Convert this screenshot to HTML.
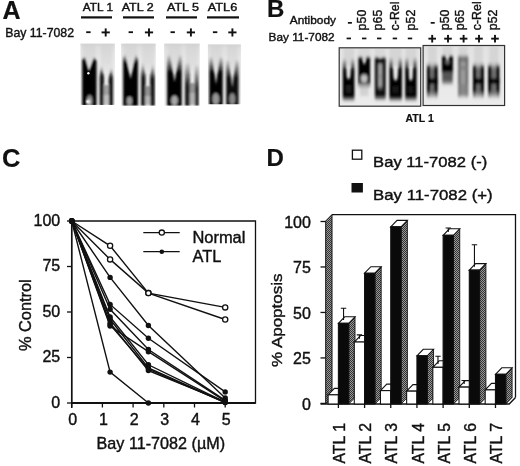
<!DOCTYPE html>
<html><head><meta charset="utf-8"><style>
html,body{margin:0;padding:0;background:#fff;}
svg{display:block;will-change:transform;}
text{font-family:"Liberation Sans",sans-serif;fill:#111;stroke:#111;stroke-width:0.4px;}
text[font-weight=bold]{stroke-width:0.2px;}
</style></head><body>
<svg width="520" height="466" viewBox="0 0 520 466">
<defs>
<linearGradient id="g1" gradientUnits="userSpaceOnUse" x1="0" y1="55.5" x2="0" y2="60.5"><stop offset="0" stop-color="#030303" stop-opacity="0.0"/><stop offset="1" stop-color="#030303" stop-opacity="1.0"/></linearGradient><linearGradient id="g2" gradientUnits="userSpaceOnUse" x1="0" y1="64.5" x2="0" y2="74.5"><stop offset="0" stop-color="#080808" stop-opacity="0.0"/><stop offset="1" stop-color="#080808" stop-opacity="1.0"/></linearGradient><linearGradient id="g3" gradientUnits="userSpaceOnUse" x1="0" y1="66.5" x2="0" y2="76.5"><stop offset="0" stop-color="#080808" stop-opacity="0.0"/><stop offset="1" stop-color="#080808" stop-opacity="1.0"/></linearGradient><linearGradient id="g4" gradientUnits="userSpaceOnUse" x1="0" y1="53" x2="0" y2="63"><stop offset="0" stop-color="#030303" stop-opacity="0.0"/><stop offset="1" stop-color="#030303" stop-opacity="1.0"/></linearGradient><linearGradient id="g5" gradientUnits="userSpaceOnUse" x1="0" y1="61" x2="0" y2="78"><stop offset="0" stop-color="#0a0a0a" stop-opacity="0.0"/><stop offset="1" stop-color="#0a0a0a" stop-opacity="1.0"/></linearGradient><linearGradient id="g6" gradientUnits="userSpaceOnUse" x1="0" y1="62.5" x2="0" y2="79.5"><stop offset="0" stop-color="#0a0a0a" stop-opacity="0.0"/><stop offset="1" stop-color="#0a0a0a" stop-opacity="1.0"/></linearGradient><linearGradient id="g7" gradientUnits="userSpaceOnUse" x1="0" y1="54" x2="0" y2="73"><stop offset="0" stop-color="#040404" stop-opacity="0.0"/><stop offset="1" stop-color="#040404" stop-opacity="1.0"/></linearGradient><linearGradient id="g8" gradientUnits="userSpaceOnUse" x1="0" y1="62" x2="0" y2="86"><stop offset="0" stop-color="#1a1a1a" stop-opacity="0.0"/><stop offset="1" stop-color="#1a1a1a" stop-opacity="1.0"/></linearGradient><linearGradient id="g9" gradientUnits="userSpaceOnUse" x1="0" y1="64" x2="0" y2="88"><stop offset="0" stop-color="#222" stop-opacity="0.0"/><stop offset="1" stop-color="#222" stop-opacity="1.0"/></linearGradient><linearGradient id="g10" gradientUnits="userSpaceOnUse" x1="0" y1="56" x2="0" y2="73"><stop offset="0" stop-color="#040404" stop-opacity="0.0"/><stop offset="1" stop-color="#040404" stop-opacity="1.0"/></linearGradient><linearGradient id="g11" gradientUnits="userSpaceOnUse" x1="0" y1="59" x2="0" y2="78"><stop offset="0" stop-color="#0a0a0a" stop-opacity="0.0"/><stop offset="1" stop-color="#0a0a0a" stop-opacity="1.0"/></linearGradient><linearGradient id="g12" gradientUnits="userSpaceOnUse" x1="0" y1="42.6" x2="0" y2="73.6"><stop offset="0" stop-color="#c4c4c4" stop-opacity="0"/><stop offset="0.097" stop-color="#c4c4c4" stop-opacity="0.3"/><stop offset="0.613" stop-color="#c4c4c4" stop-opacity="0.3"/><stop offset="1" stop-color="#c4c4c4" stop-opacity="0"/></linearGradient><linearGradient id="g13" gradientUnits="userSpaceOnUse" x1="0" y1="42.6" x2="0" y2="73.6"><stop offset="0" stop-color="#c4c4c4" stop-opacity="0"/><stop offset="0.097" stop-color="#c4c4c4" stop-opacity="0.3"/><stop offset="0.613" stop-color="#c4c4c4" stop-opacity="0.3"/><stop offset="1" stop-color="#c4c4c4" stop-opacity="0"/></linearGradient><linearGradient id="g14" gradientUnits="userSpaceOnUse" x1="0" y1="42.6" x2="0" y2="73.6"><stop offset="0" stop-color="#c4c4c4" stop-opacity="0"/><stop offset="0.097" stop-color="#c4c4c4" stop-opacity="0.3"/><stop offset="0.613" stop-color="#c4c4c4" stop-opacity="0.3"/><stop offset="1" stop-color="#c4c4c4" stop-opacity="0"/></linearGradient><linearGradient id="g15" gradientUnits="userSpaceOnUse" x1="0" y1="42.6" x2="0" y2="73.6"><stop offset="0" stop-color="#c4c4c4" stop-opacity="0"/><stop offset="0.097" stop-color="#c4c4c4" stop-opacity="0.3"/><stop offset="0.613" stop-color="#c4c4c4" stop-opacity="0.3"/><stop offset="1" stop-color="#c4c4c4" stop-opacity="0"/></linearGradient><linearGradient id="g16" gradientUnits="userSpaceOnUse" x1="0" y1="42.6" x2="0" y2="73.6"><stop offset="0" stop-color="#c4c4c4" stop-opacity="0"/><stop offset="0.097" stop-color="#c4c4c4" stop-opacity="0.3"/><stop offset="0.613" stop-color="#c4c4c4" stop-opacity="0.3"/><stop offset="1" stop-color="#c4c4c4" stop-opacity="0"/></linearGradient><linearGradient id="g17" gradientUnits="userSpaceOnUse" x1="0" y1="42.6" x2="0" y2="73.6"><stop offset="0" stop-color="#c4c4c4" stop-opacity="0"/><stop offset="0.097" stop-color="#c4c4c4" stop-opacity="0.3"/><stop offset="0.613" stop-color="#c4c4c4" stop-opacity="0.3"/><stop offset="1" stop-color="#c4c4c4" stop-opacity="0"/></linearGradient><linearGradient id="g18" gradientUnits="userSpaceOnUse" x1="0" y1="43.4" x2="0" y2="74.4"><stop offset="0" stop-color="#c4c4c4" stop-opacity="0"/><stop offset="0.097" stop-color="#c4c4c4" stop-opacity="0.3"/><stop offset="0.613" stop-color="#c4c4c4" stop-opacity="0.3"/><stop offset="1" stop-color="#c4c4c4" stop-opacity="0"/></linearGradient><linearGradient id="g19" gradientUnits="userSpaceOnUse" x1="0" y1="43.4" x2="0" y2="74.4"><stop offset="0" stop-color="#c4c4c4" stop-opacity="0"/><stop offset="0.097" stop-color="#c4c4c4" stop-opacity="0.3"/><stop offset="0.613" stop-color="#c4c4c4" stop-opacity="0.3"/><stop offset="1" stop-color="#c4c4c4" stop-opacity="0"/></linearGradient><linearGradient id="g20" gradientUnits="userSpaceOnUse" x1="0" y1="58" x2="0" y2="102"><stop offset="0" stop-color="#050505" stop-opacity="0"/><stop offset="0.295" stop-color="#050505" stop-opacity="1.0"/><stop offset="0.852" stop-color="#050505" stop-opacity="1.0"/><stop offset="1" stop-color="#050505" stop-opacity="0"/></linearGradient><linearGradient id="g21" gradientUnits="userSpaceOnUse" x1="0" y1="55.5" x2="0" y2="89"><stop offset="0" stop-color="#050505" stop-opacity="0"/><stop offset="0.104" stop-color="#050505" stop-opacity="1.0"/><stop offset="0.761" stop-color="#050505" stop-opacity="1.0"/><stop offset="1" stop-color="#050505" stop-opacity="0"/></linearGradient><linearGradient id="g22" gradientUnits="userSpaceOnUse" x1="0" y1="56" x2="0" y2="101"><stop offset="0" stop-color="#0a0a0a" stop-opacity="0"/><stop offset="0.067" stop-color="#0a0a0a" stop-opacity="1.0"/><stop offset="0.867" stop-color="#0a0a0a" stop-opacity="1.0"/><stop offset="1" stop-color="#0a0a0a" stop-opacity="0"/></linearGradient><linearGradient id="g23" gradientUnits="userSpaceOnUse" x1="0" y1="57" x2="0" y2="102"><stop offset="0" stop-color="#050505" stop-opacity="0"/><stop offset="0.289" stop-color="#050505" stop-opacity="1.0"/><stop offset="0.867" stop-color="#050505" stop-opacity="1.0"/><stop offset="1" stop-color="#050505" stop-opacity="0"/></linearGradient><linearGradient id="g24" gradientUnits="userSpaceOnUse" x1="0" y1="57" x2="0" y2="102"><stop offset="0" stop-color="#050505" stop-opacity="0"/><stop offset="0.289" stop-color="#050505" stop-opacity="1.0"/><stop offset="0.856" stop-color="#050505" stop-opacity="1.0"/><stop offset="1" stop-color="#050505" stop-opacity="0"/></linearGradient><linearGradient id="g25" gradientUnits="userSpaceOnUse" x1="0" y1="62" x2="0" y2="99"><stop offset="0" stop-color="#050505" stop-opacity="0"/><stop offset="0.189" stop-color="#050505" stop-opacity="1.0"/><stop offset="0.757" stop-color="#050505" stop-opacity="1.0"/><stop offset="1" stop-color="#050505" stop-opacity="0"/></linearGradient><linearGradient id="g26" gradientUnits="userSpaceOnUse" x1="0" y1="62" x2="0" y2="99"><stop offset="0" stop-color="#050505" stop-opacity="0"/><stop offset="0.189" stop-color="#050505" stop-opacity="1.0"/><stop offset="0.757" stop-color="#050505" stop-opacity="1.0"/><stop offset="1" stop-color="#050505" stop-opacity="0"/></linearGradient><linearGradient id="g27" gradientUnits="userSpaceOnUse" x1="0" y1="62" x2="0" y2="99"><stop offset="0" stop-color="#6a6a6a" stop-opacity="0"/><stop offset="0.216" stop-color="#6a6a6a" stop-opacity="1.0"/><stop offset="0.811" stop-color="#6a6a6a" stop-opacity="1.0"/><stop offset="1" stop-color="#6a6a6a" stop-opacity="0"/></linearGradient><linearGradient id="g28" gradientUnits="userSpaceOnUse" x1="0" y1="62" x2="0" y2="99"><stop offset="0" stop-color="#050505" stop-opacity="0"/><stop offset="0.189" stop-color="#050505" stop-opacity="1.0"/><stop offset="0.757" stop-color="#050505" stop-opacity="1.0"/><stop offset="1" stop-color="#050505" stop-opacity="0"/></linearGradient><linearGradient id="g29" gradientUnits="userSpaceOnUse" x1="0" y1="62" x2="0" y2="99"><stop offset="0" stop-color="#050505" stop-opacity="0"/><stop offset="0.189" stop-color="#050505" stop-opacity="1.0"/><stop offset="0.757" stop-color="#050505" stop-opacity="1.0"/><stop offset="1" stop-color="#050505" stop-opacity="0"/></linearGradient><linearGradient id="g30" gradientUnits="userSpaceOnUse" x1="0" y1="62" x2="0" y2="99"><stop offset="0" stop-color="#6a6a6a" stop-opacity="0"/><stop offset="0.216" stop-color="#6a6a6a" stop-opacity="1.0"/><stop offset="0.811" stop-color="#6a6a6a" stop-opacity="1.0"/><stop offset="1" stop-color="#6a6a6a" stop-opacity="0"/></linearGradient><linearGradient id="g31" gradientUnits="userSpaceOnUse" x1="0" y1="62" x2="0" y2="99"><stop offset="0" stop-color="#050505" stop-opacity="0"/><stop offset="0.189" stop-color="#050505" stop-opacity="1.0"/><stop offset="0.757" stop-color="#050505" stop-opacity="1.0"/><stop offset="1" stop-color="#050505" stop-opacity="0"/></linearGradient><linearGradient id="g32" gradientUnits="userSpaceOnUse" x1="0" y1="62" x2="0" y2="99"><stop offset="0" stop-color="#050505" stop-opacity="0"/><stop offset="0.189" stop-color="#050505" stop-opacity="1.0"/><stop offset="0.757" stop-color="#050505" stop-opacity="1.0"/><stop offset="1" stop-color="#050505" stop-opacity="0"/></linearGradient><linearGradient id="g33" gradientUnits="userSpaceOnUse" x1="0" y1="62" x2="0" y2="99"><stop offset="0" stop-color="#6a6a6a" stop-opacity="0"/><stop offset="0.216" stop-color="#6a6a6a" stop-opacity="1.0"/><stop offset="0.811" stop-color="#6a6a6a" stop-opacity="1.0"/><stop offset="1" stop-color="#6a6a6a" stop-opacity="0"/></linearGradient><linearGradient id="g34" gradientUnits="userSpaceOnUse" x1="0" y1="54.5" x2="0" y2="76"><stop offset="0" stop-color="#050505" stop-opacity="0"/><stop offset="0.116" stop-color="#050505" stop-opacity="1.0"/><stop offset="0.814" stop-color="#050505" stop-opacity="1.0"/><stop offset="1" stop-color="#050505" stop-opacity="0"/></linearGradient><linearGradient id="g35" gradientUnits="userSpaceOnUse" x1="0" y1="71" x2="0" y2="86"><stop offset="0" stop-color="#555" stop-opacity="0"/><stop offset="0.067" stop-color="#555" stop-opacity="1.0"/><stop offset="0.600" stop-color="#555" stop-opacity="1.0"/><stop offset="1" stop-color="#555" stop-opacity="0"/></linearGradient><linearGradient id="g36" gradientUnits="userSpaceOnUse" x1="0" y1="54" x2="0" y2="99"><stop offset="0" stop-color="#9a9a9a" stop-opacity="0"/><stop offset="0.067" stop-color="#9a9a9a" stop-opacity="1.0"/><stop offset="0.889" stop-color="#9a9a9a" stop-opacity="1.0"/><stop offset="1" stop-color="#9a9a9a" stop-opacity="0"/></linearGradient><linearGradient id="g37" gradientUnits="userSpaceOnUse" x1="0" y1="56" x2="0" y2="98"><stop offset="0" stop-color="#707070" stop-opacity="0"/><stop offset="0.095" stop-color="#707070" stop-opacity="1.0"/><stop offset="0.857" stop-color="#707070" stop-opacity="1.0"/><stop offset="1" stop-color="#707070" stop-opacity="0"/></linearGradient><linearGradient id="g38" gradientUnits="userSpaceOnUse" x1="0" y1="56" x2="0" y2="98"><stop offset="0" stop-color="#707070" stop-opacity="0"/><stop offset="0.095" stop-color="#707070" stop-opacity="1.0"/><stop offset="0.857" stop-color="#707070" stop-opacity="1.0"/><stop offset="1" stop-color="#707070" stop-opacity="0"/></linearGradient>
<linearGradient id="gelbg" x1="0" y1="0" x2="0" y2="1">
<stop offset="0" stop-color="#d4d4d4"/><stop offset="0.06" stop-color="#dedede"/><stop offset="0.25" stop-color="#e6e6e6"/><stop offset="1" stop-color="#eeeeee"/>
</linearGradient>
<linearGradient id="gelbgB" x1="0" y1="0" x2="0" y2="1">
<stop offset="0" stop-color="#e2e2e2"/><stop offset="1" stop-color="#ececec"/>
</linearGradient>
<pattern id="stip" width="2" height="2" patternUnits="userSpaceOnUse">
<rect width="2" height="2" fill="#999"/><rect width="1" height="1" fill="#333"/><rect x="1" y="1" width="1" height="1" fill="#333"/>
</pattern>
<filter id="blur1" x="-20%" y="-20%" width="140%" height="140%"><feGaussianBlur stdDeviation="0.85 0.95"/></filter>
<filter id="blurB" x="-20%" y="-20%" width="140%" height="140%"><feGaussianBlur stdDeviation="1.3 1.4"/></filter>
<filter id="blur05"><feGaussianBlur stdDeviation="0.5"/></filter>
<clipPath id="clipA0"><rect x="80.5" y="43.6" width="34.5" height="61.4"/></clipPath>
<clipPath id="clipA1"><rect x="121.2" y="43.6" width="34.5" height="62.1"/></clipPath>
<clipPath id="clipA2"><rect x="164.2" y="43.6" width="35.5" height="62.1"/></clipPath>
<clipPath id="clipA3"><rect x="207.9" y="44.4" width="33" height="59.8"/></clipPath>
<clipPath id="clipB0"><rect x="340" y="48.5" width="79.8" height="57"/></clipPath>
<clipPath id="clipB1"><rect x="424" y="46.2" width="80.3" height="58.5"/></clipPath>
</defs>
<rect width="520" height="466" fill="#fff"/>
<text x="2.4" y="19" font-size="25" font-weight="bold" >A</text>
<text x="5.2" y="37.3" font-size="13" textLength="68.8" lengthAdjust="spacingAndGlyphs" >Bay 11-7082</text>
<text x="82.8" y="10.7" font-size="11.5" textLength="30.2" lengthAdjust="spacingAndGlyphs" >ATL 1</text>
<rect x="81" y="16.3" width="31" height="2.2" fill="#111"/>
<text x="121.7" y="10.7" font-size="11.5" textLength="32.0" lengthAdjust="spacingAndGlyphs" >ATL 2</text>
<rect x="123" y="16.3" width="31" height="2.2" fill="#111"/>
<text x="167" y="10.7" font-size="11.5" textLength="32" lengthAdjust="spacingAndGlyphs" >ATL 5</text>
<rect x="166" y="16.3" width="31" height="2.2" fill="#111"/>
<text x="207.8" y="10.7" font-size="11.5" textLength="29.4" lengthAdjust="spacingAndGlyphs" >ATL6</text>
<rect x="207" y="16.3" width="32" height="2.2" fill="#111"/>
<rect x="86.2" y="31.3" width="4.4" height="1.8" fill="#111"/>
<rect x="101.60000000000001" y="31.45" width="8.2" height="1.9" fill="#111"/>
<rect x="104.75" y="28.4" width="1.9" height="8.1" fill="#111"/>
<rect x="128.60000000000002" y="31.3" width="4.4" height="1.8" fill="#111"/>
<rect x="144.9" y="31.45" width="8.2" height="1.9" fill="#111"/>
<rect x="148.05" y="28.4" width="1.9" height="8.1" fill="#111"/>
<rect x="170.50000000000003" y="31.3" width="4.4" height="1.8" fill="#111"/>
<rect x="186.8" y="31.45" width="8.2" height="1.9" fill="#111"/>
<rect x="189.95000000000002" y="28.4" width="1.9" height="8.1" fill="#111"/>
<rect x="212.9" y="31.3" width="4.4" height="1.8" fill="#111"/>
<rect x="228.3" y="31.45" width="8.2" height="1.9" fill="#111"/>
<rect x="231.45000000000002" y="28.4" width="1.9" height="8.1" fill="#111"/>
<rect x="80.5" y="43.6" width="34.3" height="61.0" fill="url(#gelbg)"/>
<g clip-path="url(#clipA0)"><g filter="url(#blur1)">
<rect x="83.2" y="43.6" width="12.299999999999997" height="30" fill="url(#g12)"/>
<rect x="100.8" y="43.6" width="11.100000000000009" height="30" fill="url(#g13)"/>
<path d="M82.2,106 L82.2,60.5 L84.5,55.5 L88.9,71.5 L94.3,56.5 L96.5,61.5 L96.5,106 Z" fill="url(#g1)"/>
<ellipse cx="89.6" cy="101" rx="3" ry="6" fill="#999" fill-opacity="0.9"/>
<ellipse cx="88.6" cy="101.8" rx="2" ry="2.2" fill="#e8e8e8" fill-opacity="1"/>
<path d="M99.8,106 L99.8,77.5 L101.6,64.5 L103.8,77.5 L103.8,106 Z" fill="url(#g2)"/>
<path d="M108.8,106 L108.8,79.5 L111.2,66.5 L112.9,79.5 L112.9,106 Z" fill="url(#g3)"/>
<rect x="103.5" y="85" width="5.5" height="10" fill="#999" fill-opacity="0.9"/>
<rect x="103.5" y="95" width="5.5" height="10" fill="#bbb" fill-opacity="0.9"/>
</g></g>
<circle cx="87.6" cy="101.6" r="1.2" fill="#f4f4f4" filter="url(#blur05)"/>
<circle cx="88.4" cy="73.3" r="1.2" fill="#f4f4f4" filter="url(#blur05)"/>
<rect x="121.2" y="43.6" width="34.5" height="62.1" fill="url(#gelbg)"/>
<g clip-path="url(#clipA1)"><g filter="url(#blur1)">
<rect x="124.2" y="43.6" width="12.700000000000003" height="30" fill="url(#g14)"/>
<rect x="142.2" y="43.6" width="11.400000000000006" height="30" fill="url(#g15)"/>
<path d="M123.2,106 L123.2,59 L124.9,53 L130.6,78.9 L135.8,53.8 L137.9,59.8 L137.9,106 Z" fill="url(#g4)"/>
<ellipse cx="129.5" cy="101" rx="2.8" ry="4.5" fill="#aaa" fill-opacity="0.9"/>
<path d="M141.2,106 L141.2,75 L142.8,61 L145.4,75 L145.4,106 Z" fill="url(#g5)"/>
<path d="M150.2,106 L150.2,76.5 L152.6,62.5 L154.6,76.5 L154.6,106 Z" fill="url(#g6)"/>
<rect x="145" y="86" width="5.5" height="10" fill="#888" fill-opacity="0.9"/>
<rect x="145" y="96" width="5.5" height="9" fill="#b0b0b0" fill-opacity="0.9"/>
</g></g>
<rect x="164.2" y="43.6" width="35.5" height="62.1" fill="url(#gelbg)"/>
<g clip-path="url(#clipA2)"><g filter="url(#blur1)">
<rect x="168.1" y="43.6" width="12.599999999999994" height="30" fill="url(#g16)"/>
<rect x="186" y="43.6" width="11.599999999999994" height="30" fill="url(#g17)"/>
<path d="M167.1,106 L167.1,55.5 L168.6,54 L170,54 L174.6,82 L179.2,54 L180.2,54 L181.7,55.5 L181.7,106 Z" fill="url(#g7)"/>
<ellipse cx="174.5" cy="100.5" rx="3.4" ry="5" fill="#b8b8b8" fill-opacity="0.9"/>
<path d="M185,106 L185,63.5 L186.5,62 L188.5,62 L190,63.5 L190,106 Z" fill="url(#g8)"/>
<path d="M194.8,106 L194.8,65.5 L196.3,64 L197.1,64 L198.6,65.5 L198.6,106 Z" fill="url(#g9)"/>
<rect x="189.5" y="83" width="5.5" height="10" fill="#8a8a8a" fill-opacity="0.9"/>
<rect x="189.5" y="93" width="5.5" height="12" fill="#aaa" fill-opacity="0.9"/>
</g></g>
<rect x="207.9" y="44.4" width="33" height="59.8" fill="url(#gelbg)"/>
<g clip-path="url(#clipA3)"><g filter="url(#blur1)">
<rect x="210.3" y="44.4" width="11.399999999999977" height="30" fill="url(#g18)"/>
<rect x="227.2" y="44.4" width="10.300000000000011" height="30" fill="url(#g19)"/>
<path d="M209.3,106 L209.3,57.5 L210.8,56 L212.2,56 L216,84.5 L219.8,56 L221.2,56 L222.7,57.5 L222.7,106 Z" fill="url(#g10)"/>
<ellipse cx="215.8" cy="99" rx="3.4" ry="6" fill="#b0b0b0" fill-opacity="0.85"/>
<path d="M226.2,106 L226.2,60.5 L227.7,59 L228.8,59 L232.3,87.5 L235.8,59 L237.0,59 L238.5,60.5 L238.5,106 Z" fill="url(#g11)"/>
<ellipse cx="232.3" cy="99" rx="3" ry="6" fill="#a8a8a8" fill-opacity="0.8"/>
</g></g>
<text x="266.9" y="17.1" font-size="24" font-weight="bold" >B</text>
<text x="289.8" y="24" font-size="11.5" textLength="46.2" lengthAdjust="spacingAndGlyphs" >Antibody</text>
<text x="268.6" y="41.3" font-size="11.8" textLength="66" lengthAdjust="spacingAndGlyphs" >Bay 11-7082</text>
<rect x="347.9" y="22" width="4" height="1.7" fill="#111"/>
<text transform="translate(365.8,30.4) rotate(-90)" font-size="12.4">p50</text>
<text transform="translate(382.2,30.4) rotate(-90)" font-size="12.4">p65</text>
<text transform="translate(399.2,30.4) rotate(-90)" font-size="12.4">c-Rel</text>
<text transform="translate(414.9,30.4) rotate(-90)" font-size="12.4">p52</text>
<rect x="430.7" y="22" width="4" height="1.7" fill="#111"/>
<text transform="translate(448.9,30.2) rotate(-90)" font-size="12.4">p50</text>
<text transform="translate(463.8,30.2) rotate(-90)" font-size="12.4">p65</text>
<text transform="translate(481.4,30.2) rotate(-90)" font-size="12.4">c-Rel</text>
<text transform="translate(497.1,30.2) rotate(-90)" font-size="12.4">p52</text>
<rect x="346.6" y="37.6" width="4.4" height="1.7" fill="#111"/>
<rect x="362.0" y="37.6" width="4.4" height="1.7" fill="#111"/>
<rect x="377.0" y="37.6" width="4.4" height="1.7" fill="#111"/>
<rect x="392.7" y="37.6" width="4.4" height="1.7" fill="#111"/>
<rect x="407.8" y="37.6" width="4.4" height="1.7" fill="#111"/>
<rect x="428.4" y="37.7" width="7.6" height="1.9" fill="#111"/>
<rect x="431.25" y="34.9" width="1.9" height="7.6" fill="#111"/>
<rect x="444.2" y="37.7" width="7.6" height="1.9" fill="#111"/>
<rect x="447.05" y="34.9" width="1.9" height="7.6" fill="#111"/>
<rect x="459.8" y="37.7" width="7.6" height="1.9" fill="#111"/>
<rect x="462.65000000000003" y="34.9" width="1.9" height="7.6" fill="#111"/>
<rect x="475.2" y="37.7" width="7.6" height="1.9" fill="#111"/>
<rect x="478.05" y="34.9" width="1.9" height="7.6" fill="#111"/>
<rect x="491.2" y="37.7" width="7.6" height="1.9" fill="#111"/>
<rect x="494.05" y="34.9" width="1.9" height="7.6" fill="#111"/>
<rect x="339.2" y="47.8" width="81.5" height="58.4" fill="url(#gelbgB)"/>
<rect x="423.1" y="45.5" width="81.5" height="60" fill="url(#gelbgB)"/>
<g clip-path="url(#clipB0)"><g filter="url(#blurB)">
<rect x="343.5" y="48" width="10.5" height="18" fill="#c8c8c8" fill-opacity="0.5"/>
<rect x="358.5" y="48" width="11.5" height="12" fill="#c8c8c8" fill-opacity="0.4"/>
<rect x="375" y="48" width="10" height="12" fill="#c8c8c8" fill-opacity="0.4"/>
<rect x="389.5" y="48" width="12.0" height="18" fill="#c8c8c8" fill-opacity="0.5"/>
<rect x="405.5" y="48" width="11.0" height="18" fill="#c8c8c8" fill-opacity="0.5"/>
<path d="M342.8,102 L342.8,58 L346.0,58 C346.8,76 346.1,79 348.6,79 C351.1,79 350.4,76 351.2,58 L354.4,58 L354.4,102 Z" fill="url(#g20)"/>
<rect x="345.5" y="85" width="6" height="8" fill="#3a3a3a" fill-opacity="0.5"/>
<path d="M358.4,89 L358.4,55.5 L362.2,55.5 L363.25,63.5 Q364.25,65 365.25,63.5 L366.3,55.5 L370.1,55.5 L370.1,89 Z" fill="url(#g21)"/>
<ellipse cx="364.2" cy="78.4" rx="3.3" ry="3.8" fill="#c2c2c2" fill-opacity="1"/>
<rect x="360" y="84" width="8.4" height="12" fill="#bbb" fill-opacity="0.5"/>
<path d="M374.9,101 L374.9,56 L376.4,56 L379.25,58.0 Q380.25,59.5 381.25,58.0 L384.1,56 L385.6,56 L385.6,101 Z" fill="url(#g22)"/>
<rect x="378.2" y="63.5" width="4" height="24" fill="#a8a8a8" fill-opacity="0.95"/>
<rect x="378.2" y="75" width="4" height="3" fill="#888" fill-opacity="0.7"/>
<rect x="378.2" y="86" width="4" height="4" fill="#777" fill-opacity="0.6"/>
<path d="M389.4,102 L389.4,57 L392.59999999999997,57 C393.4,77.5 393.15,80.5 395.65,80.5 C398.15,80.5 397.9,77.5 398.7,57 L401.9,57 L401.9,102 Z" fill="url(#g23)"/>
<rect x="392.5" y="86" width="6" height="7" fill="#333" fill-opacity="0.4"/>
<path d="M405.2,102 L405.2,57 L408.4,57 C409.2,77.5 408.4,80.5 410.9,80.5 C413.4,80.5 412.6,77.5 413.40000000000003,57 L416.6,57 L416.6,102 Z" fill="url(#g24)"/>
<rect x="408" y="86" width="5" height="7" fill="#333" fill-opacity="0.4"/>
</g></g>
<g clip-path="url(#clipB1)"><g filter="url(#blurB)">
<rect x="428" y="46" width="8.600000000000023" height="18" fill="#c8c8c8" fill-opacity="0.5"/>
<rect x="427" y="62" width="3.6" height="38" fill="url(#g25)"/>
<rect x="434.0" y="62" width="3.6" height="38" fill="url(#g26)"/>
<rect x="430.6" y="62" width="3.4000000000000226" height="38" fill="url(#g27)"/>
<rect x="427" y="78.5" width="10.600000000000023" height="5.5" fill="#030303" fill-opacity="1"/>
<rect x="474" y="46" width="8.800000000000011" height="18" fill="#c8c8c8" fill-opacity="0.5"/>
<rect x="473" y="62" width="3.6" height="38" fill="url(#g28)"/>
<rect x="480.2" y="62" width="3.6" height="38" fill="url(#g29)"/>
<rect x="476.6" y="62" width="3.600000000000011" height="38" fill="url(#g30)"/>
<rect x="473" y="78.5" width="10.800000000000011" height="5.5" fill="#030303" fill-opacity="1"/>
<rect x="489.2" y="46" width="9.199999999999989" height="18" fill="#c8c8c8" fill-opacity="0.5"/>
<rect x="488.2" y="62" width="3.6" height="38" fill="url(#g31)"/>
<rect x="495.79999999999995" y="62" width="3.6" height="38" fill="url(#g32)"/>
<rect x="491.8" y="62" width="3.9999999999999885" height="38" fill="url(#g33)"/>
<rect x="488.2" y="78.5" width="11.199999999999989" height="5.5" fill="#030303" fill-opacity="1"/>
<rect x="442.5" y="46" width="10.0" height="10" fill="#c8c8c8" fill-opacity="0.5"/>
<rect x="458.5" y="46" width="9.0" height="10" fill="#c8c8c8" fill-opacity="0.5"/>
<path d="M442,76 L442,54.5 L445.5,54.5 L446.45,60.5 Q447.45,62 448.45,60.5 L449.4,54.5 L452.9,54.5 L452.9,76 Z" fill="url(#g34)"/>
<ellipse cx="447.4" cy="62" rx="2.3" ry="2.3" fill="#666" fill-opacity="1"/>
<rect x="442.2" y="72" width="10.5" height="13" fill="url(#g35)"/>
<rect x="458" y="54" width="10.2" height="45" fill="url(#g36)"/>
<rect x="458" y="56" width="2.6" height="42" fill="url(#g37)"/>
<rect x="465.6" y="56" width="2.6" height="42" fill="url(#g38)"/>
<rect x="458.2" y="57.5" width="9.8" height="4" fill="#6a6a6a" fill-opacity="0.8"/>
<rect x="458.2" y="66.5" width="9.8" height="3" fill="#7a7a7a" fill-opacity="0.8"/>
<rect x="458.2" y="84" width="9.8" height="11" fill="#808080" fill-opacity="0.7"/>
</g></g>
<rect x="339.2" y="47.8" width="81.5" height="58.4" fill="none" stroke="#333" stroke-width="1.2"/>
<rect x="423.1" y="45.5" width="81.5" height="60" fill="none" stroke="#333" stroke-width="1.2"/>
<text x="405.4" y="121.5" font-size="11" font-weight="bold" textLength="28.4" lengthAdjust="spacingAndGlyphs" >ATL 1</text>
<text x="1.9" y="167.4" font-size="25.5" font-weight="bold" >C</text>
<path d="M71.7,221 L255.5,221 L255.5,403 L71.7,403 Z" fill="none" stroke="#111" stroke-width="1.3"/>
<path d="M71.7,221 L71.7,408" stroke="#111" stroke-width="1.5"/>
<path d="M71.7,403 L255.5,403" stroke="#111" stroke-width="1.8"/>
<path d="M67,403.0 L71.7,403.0" stroke="#111" stroke-width="1.3"/>
<text x="60.2" y="407.6" font-size="16" text-anchor="end" >0</text>
<path d="M67,357.5 L71.7,357.5" stroke="#111" stroke-width="1.3"/>
<text x="60.2" y="362.1" font-size="16" text-anchor="end" >25</text>
<path d="M67,312.0 L71.7,312.0" stroke="#111" stroke-width="1.3"/>
<text x="60.2" y="316.6" font-size="16" text-anchor="end" >50</text>
<path d="M67,266.5 L71.7,266.5" stroke="#111" stroke-width="1.3"/>
<text x="60.2" y="271.1" font-size="16" text-anchor="end" >75</text>
<path d="M67,221.0 L71.7,221.0" stroke="#111" stroke-width="1.3"/>
<text x="60.2" y="225.6" font-size="16" text-anchor="end" >100</text>
<path d="M71.7,403 L71.7,407.5" stroke="#111" stroke-width="1.3"/>
<text x="72.7" y="425.2" font-size="16" text-anchor="middle" >0</text>
<path d="M102.4,403 L102.4,407.5" stroke="#111" stroke-width="1.3"/>
<text x="103.4" y="425.2" font-size="16" text-anchor="middle" >1</text>
<path d="M133.1,403 L133.1,407.5" stroke="#111" stroke-width="1.3"/>
<text x="134.1" y="425.2" font-size="16" text-anchor="middle" >2</text>
<path d="M163.8,403 L163.8,407.5" stroke="#111" stroke-width="1.3"/>
<text x="164.8" y="425.2" font-size="16" text-anchor="middle" >3</text>
<path d="M194.5,403 L194.5,407.5" stroke="#111" stroke-width="1.3"/>
<text x="195.5" y="425.2" font-size="16" text-anchor="middle" >4</text>
<path d="M225.2,403 L225.2,407.5" stroke="#111" stroke-width="1.3"/>
<text x="226.2" y="425.2" font-size="16" text-anchor="middle" >5</text>
<text x="96.6" y="449" font-size="16.2" textLength="128.5" lengthAdjust="spacingAndGlyphs" >Bay 11-7082 (µM)</text>
<text transform="translate(31,351) rotate(-90)" font-size="16" textLength="71.6" lengthAdjust="spacingAndGlyphs">% Control</text>
<polyline points="71.7,221.0 110.1,277.4 148.4,325.5 225.2,397.9" fill="none" stroke="#111" stroke-width="1.4"/>
<circle cx="71.7" cy="221.0" r="2.7" fill="#111"/>
<circle cx="110.1" cy="277.4" r="2.7" fill="#111"/>
<circle cx="148.4" cy="325.5" r="2.7" fill="#111"/>
<circle cx="225.2" cy="397.9" r="2.7" fill="#111"/>
<polyline points="71.7,221.0 110.1,304.4 148.4,338.2 225.2,391.9" fill="none" stroke="#111" stroke-width="1.4"/>
<circle cx="71.7" cy="221.0" r="2.7" fill="#111"/>
<circle cx="110.1" cy="304.4" r="2.7" fill="#111"/>
<circle cx="148.4" cy="338.2" r="2.7" fill="#111"/>
<circle cx="225.2" cy="391.9" r="2.7" fill="#111"/>
<polyline points="71.7,221.0 110.1,309.3 148.4,349.5 225.2,400.3" fill="none" stroke="#111" stroke-width="1.4"/>
<circle cx="71.7" cy="221.0" r="2.7" fill="#111"/>
<circle cx="110.1" cy="309.3" r="2.7" fill="#111"/>
<circle cx="148.4" cy="349.5" r="2.7" fill="#111"/>
<circle cx="225.2" cy="400.3" r="2.7" fill="#111"/>
<polyline points="71.7,221.0 110.1,326.0 148.4,351.7 225.2,401.2" fill="none" stroke="#111" stroke-width="1.4"/>
<circle cx="71.7" cy="221.0" r="2.7" fill="#111"/>
<circle cx="110.1" cy="326.0" r="2.7" fill="#111"/>
<circle cx="148.4" cy="351.7" r="2.7" fill="#111"/>
<circle cx="225.2" cy="401.2" r="2.7" fill="#111"/>
<polyline points="71.7,221.0 110.1,316.9 148.4,364.8 225.2,402.1" fill="none" stroke="#111" stroke-width="1.4"/>
<circle cx="71.7" cy="221.0" r="2.7" fill="#111"/>
<circle cx="110.1" cy="316.9" r="2.7" fill="#111"/>
<circle cx="148.4" cy="364.8" r="2.7" fill="#111"/>
<circle cx="225.2" cy="402.1" r="2.7" fill="#111"/>
<polyline points="71.7,221.0 110.1,319.3 148.4,367.9 225.2,402.5" fill="none" stroke="#111" stroke-width="1.4"/>
<circle cx="71.7" cy="221.0" r="2.7" fill="#111"/>
<circle cx="110.1" cy="319.3" r="2.7" fill="#111"/>
<circle cx="148.4" cy="367.9" r="2.7" fill="#111"/>
<circle cx="225.2" cy="402.5" r="2.7" fill="#111"/>
<polyline points="71.7,221.0 110.1,322.9 148.4,370.6 225.2,401.9" fill="none" stroke="#111" stroke-width="1.4"/>
<circle cx="71.7" cy="221.0" r="2.7" fill="#111"/>
<circle cx="110.1" cy="322.9" r="2.7" fill="#111"/>
<circle cx="148.4" cy="370.6" r="2.7" fill="#111"/>
<circle cx="225.2" cy="401.9" r="2.7" fill="#111"/>
<polyline points="71.7,221.0 110.1,324.7 148.4,369.1 225.2,402.6" fill="none" stroke="#111" stroke-width="1.4"/>
<circle cx="71.7" cy="221.0" r="2.7" fill="#111"/>
<circle cx="110.1" cy="324.7" r="2.7" fill="#111"/>
<circle cx="148.4" cy="369.1" r="2.7" fill="#111"/>
<circle cx="225.2" cy="402.6" r="2.7" fill="#111"/>
<polyline points="71.7,221.0 110.1,372.1 148.4,403.0" fill="none" stroke="#111" stroke-width="1.4"/>
<circle cx="71.7" cy="221.0" r="2.7" fill="#111"/>
<circle cx="110.1" cy="372.1" r="2.7" fill="#111"/>
<circle cx="148.4" cy="403.0" r="2.7" fill="#111"/>
<polyline points="71.7,221.0 110.1,245.8 148.4,293.1 225.2,307.4" fill="none" stroke="#111" stroke-width="1.4"/>
<polyline points="71.7,221.0 110.1,259.4 148.4,293.1 225.2,319.5" fill="none" stroke="#111" stroke-width="1.4"/>
<circle cx="110.1" cy="245.8" r="2.6" fill="#fff" stroke="#111" stroke-width="1.3"/>
<circle cx="148.4" cy="293.1" r="2.6" fill="#fff" stroke="#111" stroke-width="1.3"/>
<circle cx="225.2" cy="307.4" r="2.6" fill="#fff" stroke="#111" stroke-width="1.3"/>
<circle cx="110.1" cy="259.4" r="2.6" fill="#fff" stroke="#111" stroke-width="1.3"/>
<circle cx="148.4" cy="293.1" r="2.6" fill="#fff" stroke="#111" stroke-width="1.3"/>
<circle cx="225.2" cy="319.5" r="2.6" fill="#fff" stroke="#111" stroke-width="1.3"/>
<circle cx="71.7" cy="221" r="3" fill="#111"/>
<path d="M143.3,232.6 L179.7,232.6 M143.3,251.7 L179.7,251.7" stroke="#111" stroke-width="1.3"/>
<circle cx="161.8" cy="232.6" r="2.6" fill="#fff" stroke="#111" stroke-width="1.3"/>
<circle cx="161.8" cy="251.7" r="2.3" fill="#111"/>
<text x="192.4" y="243.1" font-size="16" textLength="53" lengthAdjust="spacingAndGlyphs" >Normal</text>
<text x="192.6" y="262.4" font-size="16" textLength="28.8" lengthAdjust="spacingAndGlyphs" >ATL</text>
<text x="266.6" y="166.4" font-size="24" font-weight="bold" >D</text>
<rect x="352.4" y="150.2" width="9.4" height="9" fill="#fff" stroke="#111" stroke-width="1.3"/>
<rect x="351.5" y="183" width="11.4" height="9.5" fill="#111"/>
<text x="373.1" y="167.2" font-size="15.2" textLength="114.2" lengthAdjust="spacingAndGlyphs" >Bay 11-7082 (-)</text>
<text x="373.1" y="200.2" font-size="15.2" textLength="119.5" lengthAdjust="spacingAndGlyphs" >Bay 11-7082 (+)</text>
<path d="M332,214.6 L515.5,214.6 L515.5,397.5" fill="none" stroke="#111" stroke-width="1.3"/>
<path d="M320.5,404 L509.2,404 L515.5,397.5" fill="none" stroke="#111" stroke-width="1.4"/>
<path d="M325.7,221 L332.0,214.5 L332.0,397.5 L325.7,404 Z" fill="url(#stip)" stroke="#111" stroke-width="1"/>
<path d="M320.5,403.4 L325.7,403.4" stroke="#111" stroke-width="1.3"/>
<text x="310.9" y="409.79999999999995" font-size="16" text-anchor="end" >0</text>
<path d="M320.5,357.92499999999995 L325.7,357.92499999999995" stroke="#111" stroke-width="1.3"/>
<text x="310.9" y="364.32499999999993" font-size="16" text-anchor="end" >25</text>
<path d="M320.5,312.45 L325.7,312.45" stroke="#111" stroke-width="1.3"/>
<text x="310.9" y="318.84999999999997" font-size="16" text-anchor="end" >50</text>
<path d="M320.5,266.975 L325.7,266.975" stroke="#111" stroke-width="1.3"/>
<text x="310.9" y="273.375" font-size="16" text-anchor="end" >75</text>
<path d="M320.5,221.49999999999997 L325.7,221.49999999999997" stroke="#111" stroke-width="1.3"/>
<text x="310.9" y="227.89999999999998" font-size="16" text-anchor="end" >100</text>
<text transform="translate(282,367) rotate(-90)" font-size="15.3" textLength="93.5" lengthAdjust="spacingAndGlyphs">% Apoptosis</text>
<path d="M338.4,394.83 L344.7,388.33 L344.7,397.5 L338.4,404 Z" fill="url(#stip)" stroke="#111" stroke-width="0.9"/><path d="M328.09999999999997,394.83 L334.4,388.33 L344.7,388.33 L338.4,394.83 Z" fill="#fff" stroke="#111" stroke-width="1.1"/><rect x="328.09999999999997" y="394.83" width="10.3" height="9.170000000000016" fill="#fff" stroke="#111" stroke-width="1.1"/>
<path d="M348.7,323.304 L355.0,316.804 L355.0,397.5 L348.7,404 Z" fill="url(#stip)" stroke="#111" stroke-width="0.9"/><path d="M338.4,323.304 L344.7,316.804 L355.0,316.804 L348.7,323.304 Z" fill="#fff" stroke="#111" stroke-width="1.1"/><rect x="338.4" y="323.304" width="10.3" height="80.69600000000003" fill="#0a0a0a" stroke="#111" stroke-width="1.1"/><path d="M343.54999999999995,308.2652 L343.54999999999995,320.054 M340.84999999999997,308.2652 L346.24999999999994,308.2652" stroke="#111" stroke-width="1.1"/>
<path d="M338.4,404 L338.4,408" stroke="#111" stroke-width="1.3"/>
<text transform="translate(345.09999999999997,463.6) rotate(-90)" font-size="16" textLength="40.6" lengthAdjust="spacingAndGlyphs">ATL 1</text>
<path d="M364.58,342.0108 L370.88,335.5108 L370.88,397.5 L364.58,404 Z" fill="url(#stip)" stroke="#111" stroke-width="0.9"/><path d="M354.28,342.0108 L360.58,335.5108 L370.88,335.5108 L364.58,342.0108 Z" fill="#fff" stroke="#111" stroke-width="1.1"/><rect x="354.28" y="342.0108" width="10.3" height="61.98919999999998" fill="#fff" stroke="#111" stroke-width="1.1"/><path d="M359.42999999999995,334.8582 L359.42999999999995,338.7608 M356.72999999999996,334.8582 L362.12999999999994,334.8582" stroke="#111" stroke-width="1.1"/>
<path d="M374.88,273.23580000000004 L381.18,266.73580000000004 L381.18,397.5 L374.88,404 Z" fill="url(#stip)" stroke="#111" stroke-width="0.9"/><path d="M364.58,273.23580000000004 L370.88,266.73580000000004 L381.18,266.73580000000004 L374.88,273.23580000000004 Z" fill="#fff" stroke="#111" stroke-width="1.1"/><rect x="364.58" y="273.23580000000004" width="10.3" height="130.76419999999996" fill="#0a0a0a" stroke="#111" stroke-width="1.1"/>
<path d="M364.58,404 L364.58,408" stroke="#111" stroke-width="1.3"/>
<text transform="translate(371.28,463.6) rotate(-90)" font-size="16" textLength="40.6" lengthAdjust="spacingAndGlyphs">ATL 2</text>
<path d="M390.76,390.6118 L397.06,384.1118 L397.06,397.5 L390.76,404 Z" fill="url(#stip)" stroke="#111" stroke-width="0.9"/><path d="M380.46,390.6118 L386.76,384.1118 L397.06,384.1118 L390.76,390.6118 Z" fill="#fff" stroke="#111" stroke-width="1.1"/><rect x="380.46" y="390.6118" width="10.3" height="13.388199999999983" fill="#fff" stroke="#111" stroke-width="1.1"/>
<path d="M401.06,226.8356 L407.36,220.3356 L407.36,397.5 L401.06,404 Z" fill="url(#stip)" stroke="#111" stroke-width="0.9"/><path d="M390.76,226.8356 L397.06,220.3356 L407.36,220.3356 L401.06,226.8356 Z" fill="#fff" stroke="#111" stroke-width="1.1"/><rect x="390.76" y="226.8356" width="10.3" height="177.1644" fill="#0a0a0a" stroke="#111" stroke-width="1.1"/>
<path d="M390.76,404 L390.76,408" stroke="#111" stroke-width="1.3"/>
<text transform="translate(397.46,463.6) rotate(-90)" font-size="16" textLength="40.6" lengthAdjust="spacingAndGlyphs">ATL 3</text>
<path d="M416.93999999999994,391.162 L423.23999999999995,384.662 L423.23999999999995,397.5 L416.93999999999994,404 Z" fill="url(#stip)" stroke="#111" stroke-width="0.9"/><path d="M406.63999999999993,391.162 L412.93999999999994,384.662 L423.23999999999995,384.662 L416.93999999999994,391.162 Z" fill="#fff" stroke="#111" stroke-width="1.1"/><rect x="406.63999999999993" y="391.162" width="10.3" height="12.838000000000022" fill="#fff" stroke="#111" stroke-width="1.1"/>
<path d="M427.23999999999995,355.7658 L433.53999999999996,349.2658 L433.53999999999996,397.5 L427.23999999999995,404 Z" fill="url(#stip)" stroke="#111" stroke-width="0.9"/><path d="M416.93999999999994,355.7658 L423.23999999999995,349.2658 L433.53999999999996,349.2658 L427.23999999999995,355.7658 Z" fill="#fff" stroke="#111" stroke-width="1.1"/><rect x="416.93999999999994" y="355.7658" width="10.3" height="48.23419999999999" fill="#0a0a0a" stroke="#111" stroke-width="1.1"/>
<path d="M416.93999999999994,404 L416.93999999999994,408" stroke="#111" stroke-width="1.3"/>
<text transform="translate(423.63999999999993,463.6) rotate(-90)" font-size="16" textLength="40.6" lengthAdjust="spacingAndGlyphs">ATL 4</text>
<path d="M443.12,367.32 L449.42,360.82 L449.42,397.5 L443.12,404 Z" fill="url(#stip)" stroke="#111" stroke-width="0.9"/><path d="M432.82,367.32 L439.12,360.82 L449.42,360.82 L443.12,367.32 Z" fill="#fff" stroke="#111" stroke-width="1.1"/><rect x="432.82" y="367.32" width="10.3" height="36.68000000000001" fill="#fff" stroke="#111" stroke-width="1.1"/><path d="M437.96999999999997,356.316 L437.96999999999997,364.07 M435.27,356.316 L440.66999999999996,356.316" stroke="#111" stroke-width="1.1"/>
<path d="M453.42,235.272 L459.72,228.772 L459.72,397.5 L453.42,404 Z" fill="url(#stip)" stroke="#111" stroke-width="0.9"/><path d="M443.12,235.272 L449.42,228.772 L459.72,228.772 L453.42,235.272 Z" fill="#fff" stroke="#111" stroke-width="1.1"/><rect x="443.12" y="235.272" width="10.3" height="168.728" fill="#0a0a0a" stroke="#111" stroke-width="1.1"/><path d="M448.27,227.93599999999998 L448.27,232.022 M445.57,227.93599999999998 L450.96999999999997,227.93599999999998" stroke="#111" stroke-width="1.1"/>
<path d="M443.12,404 L443.12,408" stroke="#111" stroke-width="1.3"/>
<text transform="translate(449.82,463.6) rotate(-90)" font-size="16" textLength="40.6" lengthAdjust="spacingAndGlyphs">ATL 5</text>
<path d="M469.29999999999995,387.1272 L475.59999999999997,380.6272 L475.59999999999997,397.5 L469.29999999999995,404 Z" fill="url(#stip)" stroke="#111" stroke-width="0.9"/><path d="M458.99999999999994,387.1272 L465.29999999999995,380.6272 L475.59999999999997,380.6272 L469.29999999999995,387.1272 Z" fill="#fff" stroke="#111" stroke-width="1.1"/><rect x="458.99999999999994" y="387.1272" width="10.3" height="16.872799999999984" fill="#fff" stroke="#111" stroke-width="1.1"/><path d="M464.1499999999999,380.5248 L464.1499999999999,383.8772 M461.44999999999993,380.5248 L466.8499999999999,380.5248" stroke="#111" stroke-width="1.1"/>
<path d="M479.59999999999997,270.118 L485.9,263.618 L485.9,397.5 L479.59999999999997,404 Z" fill="url(#stip)" stroke="#111" stroke-width="0.9"/><path d="M469.29999999999995,270.118 L475.59999999999997,263.618 L485.9,263.618 L479.59999999999997,270.118 Z" fill="#fff" stroke="#111" stroke-width="1.1"/><rect x="469.29999999999995" y="270.118" width="10.3" height="133.882" fill="#0a0a0a" stroke="#111" stroke-width="1.1"/><path d="M474.44999999999993,244.8088 L474.44999999999993,266.868 M471.74999999999994,244.8088 L477.1499999999999,244.8088" stroke="#111" stroke-width="1.1"/>
<path d="M469.29999999999995,404 L469.29999999999995,408" stroke="#111" stroke-width="1.3"/>
<text transform="translate(475.99999999999994,463.6) rotate(-90)" font-size="16" textLength="40.6" lengthAdjust="spacingAndGlyphs">ATL 6</text>
<path d="M495.47999999999996,389.8782 L501.78,383.3782 L501.78,397.5 L495.47999999999996,404 Z" fill="url(#stip)" stroke="#111" stroke-width="0.9"/><path d="M485.17999999999995,389.8782 L491.47999999999996,383.3782 L501.78,383.3782 L495.47999999999996,389.8782 Z" fill="#fff" stroke="#111" stroke-width="1.1"/><rect x="485.17999999999995" y="389.8782" width="10.3" height="14.121800000000007" fill="#fff" stroke="#111" stroke-width="1.1"/>
<path d="M505.78,374.2892 L512.0799999999999,367.7892 L512.0799999999999,397.5 L505.78,404 Z" fill="url(#stip)" stroke="#111" stroke-width="0.9"/><path d="M495.47999999999996,374.2892 L501.78,367.7892 L512.0799999999999,367.7892 L505.78,374.2892 Z" fill="#fff" stroke="#111" stroke-width="1.1"/><rect x="495.47999999999996" y="374.2892" width="10.3" height="29.710800000000006" fill="#0a0a0a" stroke="#111" stroke-width="1.1"/>
<path d="M495.47999999999996,404 L495.47999999999996,408" stroke="#111" stroke-width="1.3"/>
<text transform="translate(502.17999999999995,463.6) rotate(-90)" font-size="16" textLength="40.6" lengthAdjust="spacingAndGlyphs">ATL 7</text>
</svg>
</body></html>
